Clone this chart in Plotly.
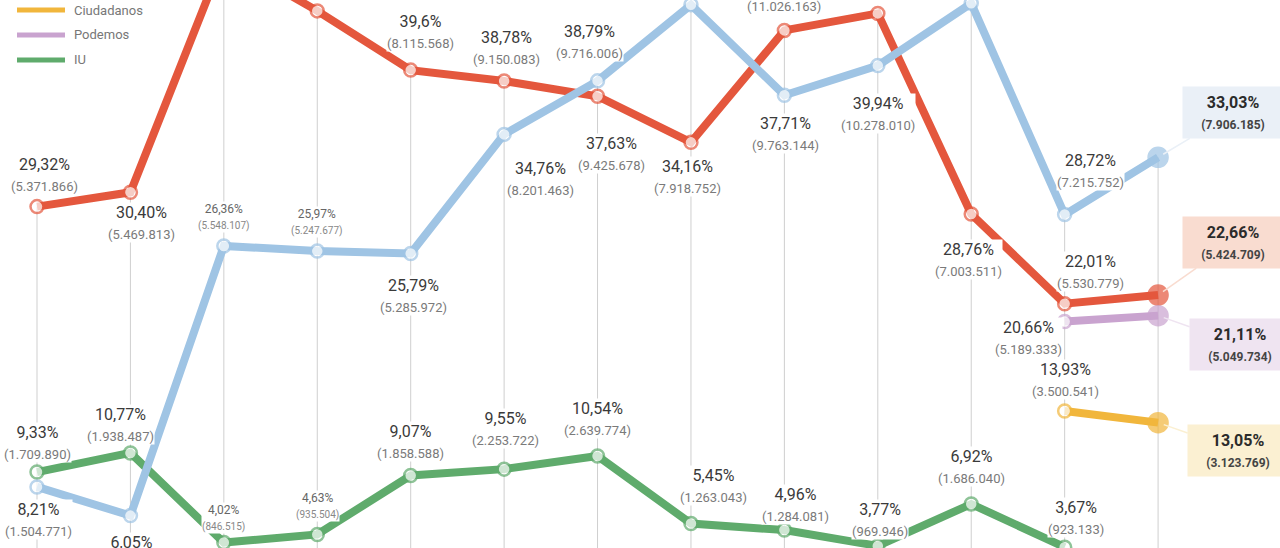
import plotly.graph_objects as go

# ---------------- data ----------------
years = ["1977", "1979", "1982", "1986", "1989", "1993", "1996",
         "2000", "2004", "2008", "2011", "2015", "2016"]

psoe_pct = [29.32, 30.40, 48.11, 44.06, 39.6, 38.78, 37.63, 34.16, 42.59, 43.87, 28.76, 22.01, 22.66]
psoe_lbl = ["29,32%", "30,40%", "48,11%", "44,06%", "39,6%", "38,78%", "37,63%", "34,16%",
            "42,59%", "43,87%", "28,76%", "22,01%", "22,66%"]
psoe_votes = ["5.371.866", "5.469.813", "10.127.392", "8.901.718", "8.115.568", "9.150.083",
              "9.425.678", "7.918.752", "11.026.163", "11.289.335", "7.003.511", "5.530.779", "5.424.709"]

pp_pct = [8.21, 6.05, 26.36, 25.97, 25.79, 34.76, 38.79, 44.52, 37.71, 39.94, 44.63, 28.72, 33.03]
pp_lbl = ["8,21%", "6,05%", "26,36%", "25,97%", "25,79%", "34,76%", "38,79%", "44,52%",
          "37,71%", "39,94%", "44,63%", "28,72%", "33,03%"]
pp_votes = ["1.504.771", "1.088.578", "5.548.107", "5.247.677", "5.285.972", "8.201.463",
            "9.716.006", "10.321.178", "9.763.144", "10.278.010", "10.866.566", "7.215.752", "7.906.185"]

iu_pct = [9.33, 10.77, 4.02, 4.63, 9.07, 9.55, 10.54, 5.45, 4.96, 3.77, 6.92, 3.67, None]
iu_lbl = ["9,33%", "10,77%", "4,02%", "4,63%", "9,07%", "9,55%", "10,54%", "5,45%",
          "4,96%", "3,77%", "6,92%", "3,67%", None]
iu_votes = ["1.709.890", "1.938.487", "846.515", "935.504", "1.858.588", "2.253.722",
            "2.639.774", "1.263.043", "1.284.081", "969.946", "1.686.040", "923.133", None]

cs_pct = [None] * 11 + [13.93, 13.05]
cs_lbl = [None] * 11 + ["13,93%", "13,05%"]
cs_votes = [None] * 11 + ["3.500.541", "3.123.769"]

pod_pct = [None] * 11 + [20.66, 21.11]
pod_lbl = [None] * 11 + ["20,66%", "21,11%"]
pod_votes = [None] * 11 + ["5.189.333", "5.049.734"]

legend_names = ["Ciudadanos", "Podemos", "IU"]

# ---------------- styling / layout config ----------------
C_PSOE = "#e4573d"
C_PP = "#9fc4e4"
C_IU = "#5fab6c"
C_CS = "#f1b63c"
C_POD = "#c9a3cf"

BOX_BG = {"PSOE": "#f9dcd0", "PP": "#eaf0f7", "Cs": "#fbf0d2", "Pod": "#efe4f1"}

# label offsets in pixels (xshift, yshift); None = label lies outside the visible crop
psoe_off = [(7, 32), (11, -30), None, None, (10, 39), (2, 34), (14, -57), (-3, -34),
            (0, 36), None, (-3, -45), (26, 32), None]
pp_off = [(1, -33), (1, -37), (0, 29), (0, 29), (3, -42), (36, -44), (-8, 39), None,
          (1, -38), (0, -48), None, (26, 44), None]
iu_off = [(0, 30), (-10, 28), (0, 25), (0, 28), (0, 34), (1, 41), (0, 37), (23, 38),
          (11, 26), (2, 26), (0, 38), (11, 30), None]
cs_off = [None] * 11 + [(1, 31), None]
pod_off = [None] * 11 + [(-36, -16), None]
small_idx = {2, 3}  # 1982 / 1986 labels are printed smaller

FONT = "Roboto, 'Liberation Sans', Arial, sans-serif"

xpos = list(range(len(years)))  # election index on the x axis

fig = go.Figure()

series = [
    ("IU", iu_pct, iu_lbl, iu_votes, C_IU, iu_off),
    ("PSOE", psoe_pct, psoe_lbl, psoe_votes, C_PSOE, psoe_off),
    ("PP", pp_pct, pp_lbl, pp_votes, C_PP, pp_off),
    ("Cs", cs_pct, cs_lbl, cs_votes, C_CS, cs_off),
    ("Pod", pod_pct, pod_lbl, pod_votes, C_POD, pod_off),
]

last = len(years) - 1
for name, vals, lbls, votes, col, offs in series:
    sizes = [19 if i == last else 13 for i in range(len(years))]
    fills = [col if i == last else "white" for i in range(len(years))]
    fig.add_trace(go.Scatter(
        x=xpos, y=vals, mode="lines+markers", name=name,
        line=dict(color=col, width=8),
        marker=dict(size=sizes, color=fills, line=dict(color=col, width=2.5)),
        connectgaps=False, showlegend=False, hoverinfo="skip",
        customdata=years,
    ))

annotations = []
# point labels
for name, vals, lbls, votes, col, offs in series:
    for i, v in enumerate(vals):
        if v is None or offs[i] is None:
            continue
        dx, dy = offs[i]
        if i in small_idx:
            txt = (f"<span style='font-size:12px'>{lbls[i]}</span><br>"
                   f"<span style='font-size:10px;color:#888'>({votes[i]})</span>")
            fsize, fcol = 12, "#666"
        else:
            txt = (f"{lbls[i]}<br>"
                   f"<span style='font-size:13px;color:#7a7a7a'>({votes[i]})</span>")
            fsize, fcol = 16, "#3a3a3a"
        annotations.append(dict(
            x=xpos[i], y=v, xref="x", yref="y", text=txt, showarrow=False,
            xshift=dx, yshift=dy, bgcolor="white", borderpad=0,
            font=dict(family=FONT, size=fsize, color=fcol), align="center",
        ))

# 2016 boxed labels
box_cfg = {"PP": (75, -45), "PSOE": (75, -53), "Pod": (82, 29), "Cs": (80, 28)}
for name, vals, lbls, votes, col, offs in series:
    v = vals[last]
    if v is None:
        continue
    ax, ay = box_cfg[name]
    annotations.append(dict(
        x=xpos[last], y=v, xref="x", yref="y",
        text=(f"<b>{lbls[last]}</b><br>"
              f"<b><span style='font-size:12px;color:#444'>({votes[last]})</span></b>"),
        showarrow=True, arrowhead=0, arrowwidth=1.5, arrowcolor=BOX_BG[name],
        ax=ax, ay=ay, standoff=6, width=88, bgcolor=BOX_BG[name], borderpad=6,
        font=dict(family=FONT, size=16, color="#2b2b2b"), align="center",
    ))

# legend (manual)
legend_cols = [C_CS, C_POD, C_IU]
shapes = []
for k, (nm, c) in enumerate(zip(legend_names, legend_cols)):
    yp = 1 - (10 + 25 * k) / 548
    shapes.append(dict(type="line", xref="paper", yref="paper",
                       x0=17 / 1280, x1=65 / 1280, y0=yp, y1=yp,
                       line=dict(color=c, width=5)))
    annotations.append(dict(x=72 / 1280, y=yp, xref="paper", yref="paper",
                            text=nm, showarrow=False, xanchor="left", yanchor="middle",
                            font=dict(family=FONT, size=13, color="#777")))

# vertical drop lines from top-most value of each election down
for i in xpos:
    tops = [s[1][i] for s in series if s[1][i] is not None]
    shapes.append(dict(type="line", xref="x", yref="y", x0=i, x1=i,
                       y0=max(tops), y1=0, layer="below",
                       line=dict(color="#cfcfcf", width=1)))

fig.update_layout(
    width=1280, height=548,
    margin=dict(l=0, r=0, t=0, b=0),
    paper_bgcolor="white", plot_bgcolor="white",
    xaxis=dict(range=[-0.396, 13.305], visible=False, fixedrange=True),
    yaxis=dict(range=[3.61, 44.88], visible=False, fixedrange=True),
    shapes=shapes, annotations=annotations, showlegend=False,
)

fig.write_html("out.html")
